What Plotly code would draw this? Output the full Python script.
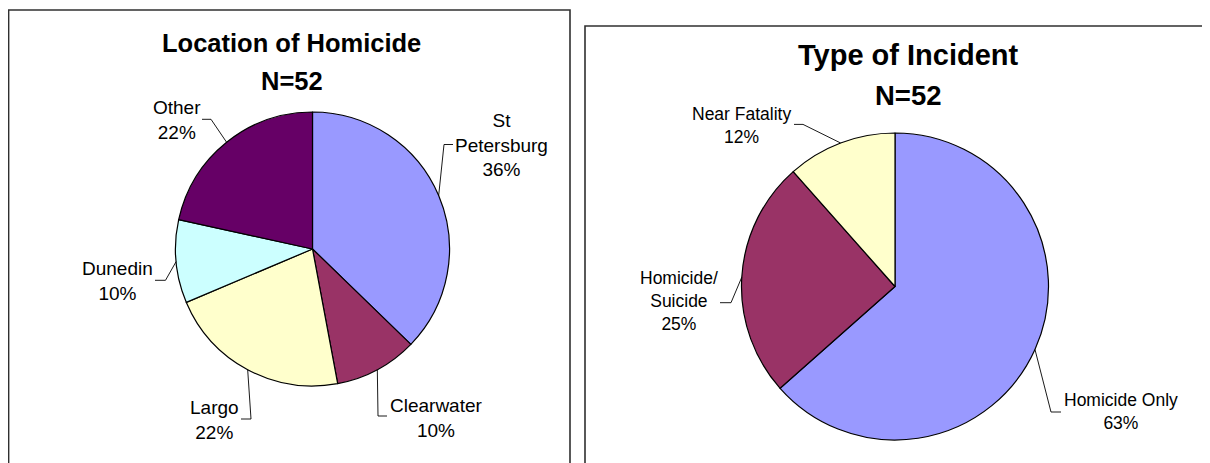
import math
import plotly.graph_objects as go

W, H = 1210, 463
OFF = 8  # page body margin in which the figure is placed

# ---------------- data ----------------
loc_names = ["St<br>Petersburg", "Clearwater", "Largo", "Dunedin", "Other"]
loc_counts = [19, 5, 11, 5, 11]
loc_pct = ["36%", "10%", "22%", "10%", "22%"]
loc_colors = ["#9999FF", "#993366", "#FFFFCC", "#CCFFFF", "#660066"]

inc_names = ["Homicide Only", "Homicide/<br>Suicide", "Near Fatality"]
inc_counts = [33, 13, 6]
inc_pct = ["63%", "25%", "12%"]
inc_colors = ["#9999FF", "#993366", "#FFFFCC"]

FONT = "Liberation Sans, Arial, sans-serif"

# ---------------- layout constants (window pixels) ----------------
left_pie = dict(cx=312.5, cy=249.0, r=137.0)
right_pie = dict(cx=895.0, cy=286.5, r=153.5)

loc_label_pos = [(501, 145), (436.5, 418), (214, 419.5), (117, 281), (177, 120)]
loc_elbows = [((453, 144.5), (444, 144.5)), ((387, 416), (378, 416)),
              ((241, 419), (251, 419)), ((155, 280.3), (165.5, 280.3)),
              ((202, 119.3), (211, 119.3))]
inc_label_pos = [(1121.4, 411), (678.5, 301), (741, 125)]
inc_elbows = [((1061, 412), (1051, 412)), ((720, 302.7), (731, 302.7)),
              ((794, 124.4), (803, 124.4))]


def px(x, y):
    return (x - OFF) / W, 1 - (y - OFF) / H


def domain(p):
    x0, y1 = px(p["cx"] - p["r"], p["cy"] - p["r"])
    x1, y0 = px(p["cx"] + p["r"], p["cy"] + p["r"])
    return dict(x=[x0, x1], y=[y0, y1])


def anchors(values, p):
    tot = float(sum(values))
    out, cum = [], 0.0
    for v in values:
        th = 2 * math.pi * (cum + v / 2) / tot
        out.append((p["cx"] + p["r"] * math.sin(th), p["cy"] - p["r"] * math.cos(th)))
        cum += v
    return out


fig = go.Figure()
for names, vals, cols, p in [(loc_names, loc_counts, loc_colors, left_pie),
                             (inc_names, inc_counts, inc_colors, right_pie)]:
    fig.add_trace(go.Pie(labels=[n.replace("<br>", " ") for n in names], values=vals,
                         sort=False, direction="clockwise", rotation=0,
                         marker=dict(colors=cols, line=dict(color="#000000", width=1.2)),
                         textinfo="none", hoverinfo="label+percent",
                         domain=domain(p), showlegend=False))

shapes = []
annotations = []

# panel borders
bx0, by1 = px(8, 10)
bx1, _ = px(570, 10)
shapes.append(dict(type="rect", xref="paper", yref="paper",
                   x0=bx0 + 0.6 / W, x1=bx1, y0=-0.05, y1=by1,
                   line=dict(color="#303030", width=1.6), fillcolor="rgba(0,0,0,0)", layer="below"))
rx0, ry1 = px(585, 26)
shapes.append(dict(type="rect", xref="paper", yref="paper",
                   x0=rx0, x1=1.05, y0=-0.05, y1=ry1,
                   line=dict(color="#303030", width=1.6), fillcolor="rgba(0,0,0,0)", layer="below"))

# labels + leader lines
for names, vals, pcts, p, lpos, elb, fs in [
        (loc_names, loc_counts, loc_pct, left_pie, loc_label_pos, loc_elbows, 19),
        (inc_names, inc_counts, inc_pct, right_pie, inc_label_pos, inc_elbows, 17.5)]:
    anc = anchors(vals, p)
    for name, pct, (lx, ly), ((e1x, e1y), (e2x, e2y)), (ax_, ay_) in zip(names, pcts, lpos, elb, anc):
        x, y = px(lx, ly)
        annotations.append(dict(x=x, y=y, xref="paper", yref="paper", showarrow=False,
                                text=name + "<br>" + pct, align="center",
                                xanchor="center", yanchor="middle",
                                font=dict(family=FONT, size=fs, color="#000000")))
        a = px(e1x, e1y); b = px(e2x, e2y); c = px(ax_, ay_)
        shapes.append(dict(type="path", xref="paper", yref="paper",
                           path=f"M {a[0]},{a[1]} L {b[0]},{b[1]} L {c[0]},{c[1]}",
                           line=dict(color="#000000", width=0.9)))

# titles
for txt, (tx, ty), fs in [("Location of Homicide", (291, 43), 25.5), ("N=52", (291.5, 81), 25.5),
                          ("Type of Incident", (908.5, 55), 29), ("N=52", (908, 95), 27.5)]:
    x, y = px(tx, ty)
    annotations.append(dict(x=x, y=y, xref="paper", yref="paper", showarrow=False,
                            text="<b>" + txt + "</b>", xanchor="center", yanchor="middle",
                            font=dict(family=FONT, size=fs, color="#000000")))

fig.update_layout(width=W, height=H, margin=dict(l=0, r=0, t=0, b=0),
                  paper_bgcolor="white", plot_bgcolor="white",
                  shapes=shapes, annotations=annotations, showlegend=False)

fig.write_html("out.html")
